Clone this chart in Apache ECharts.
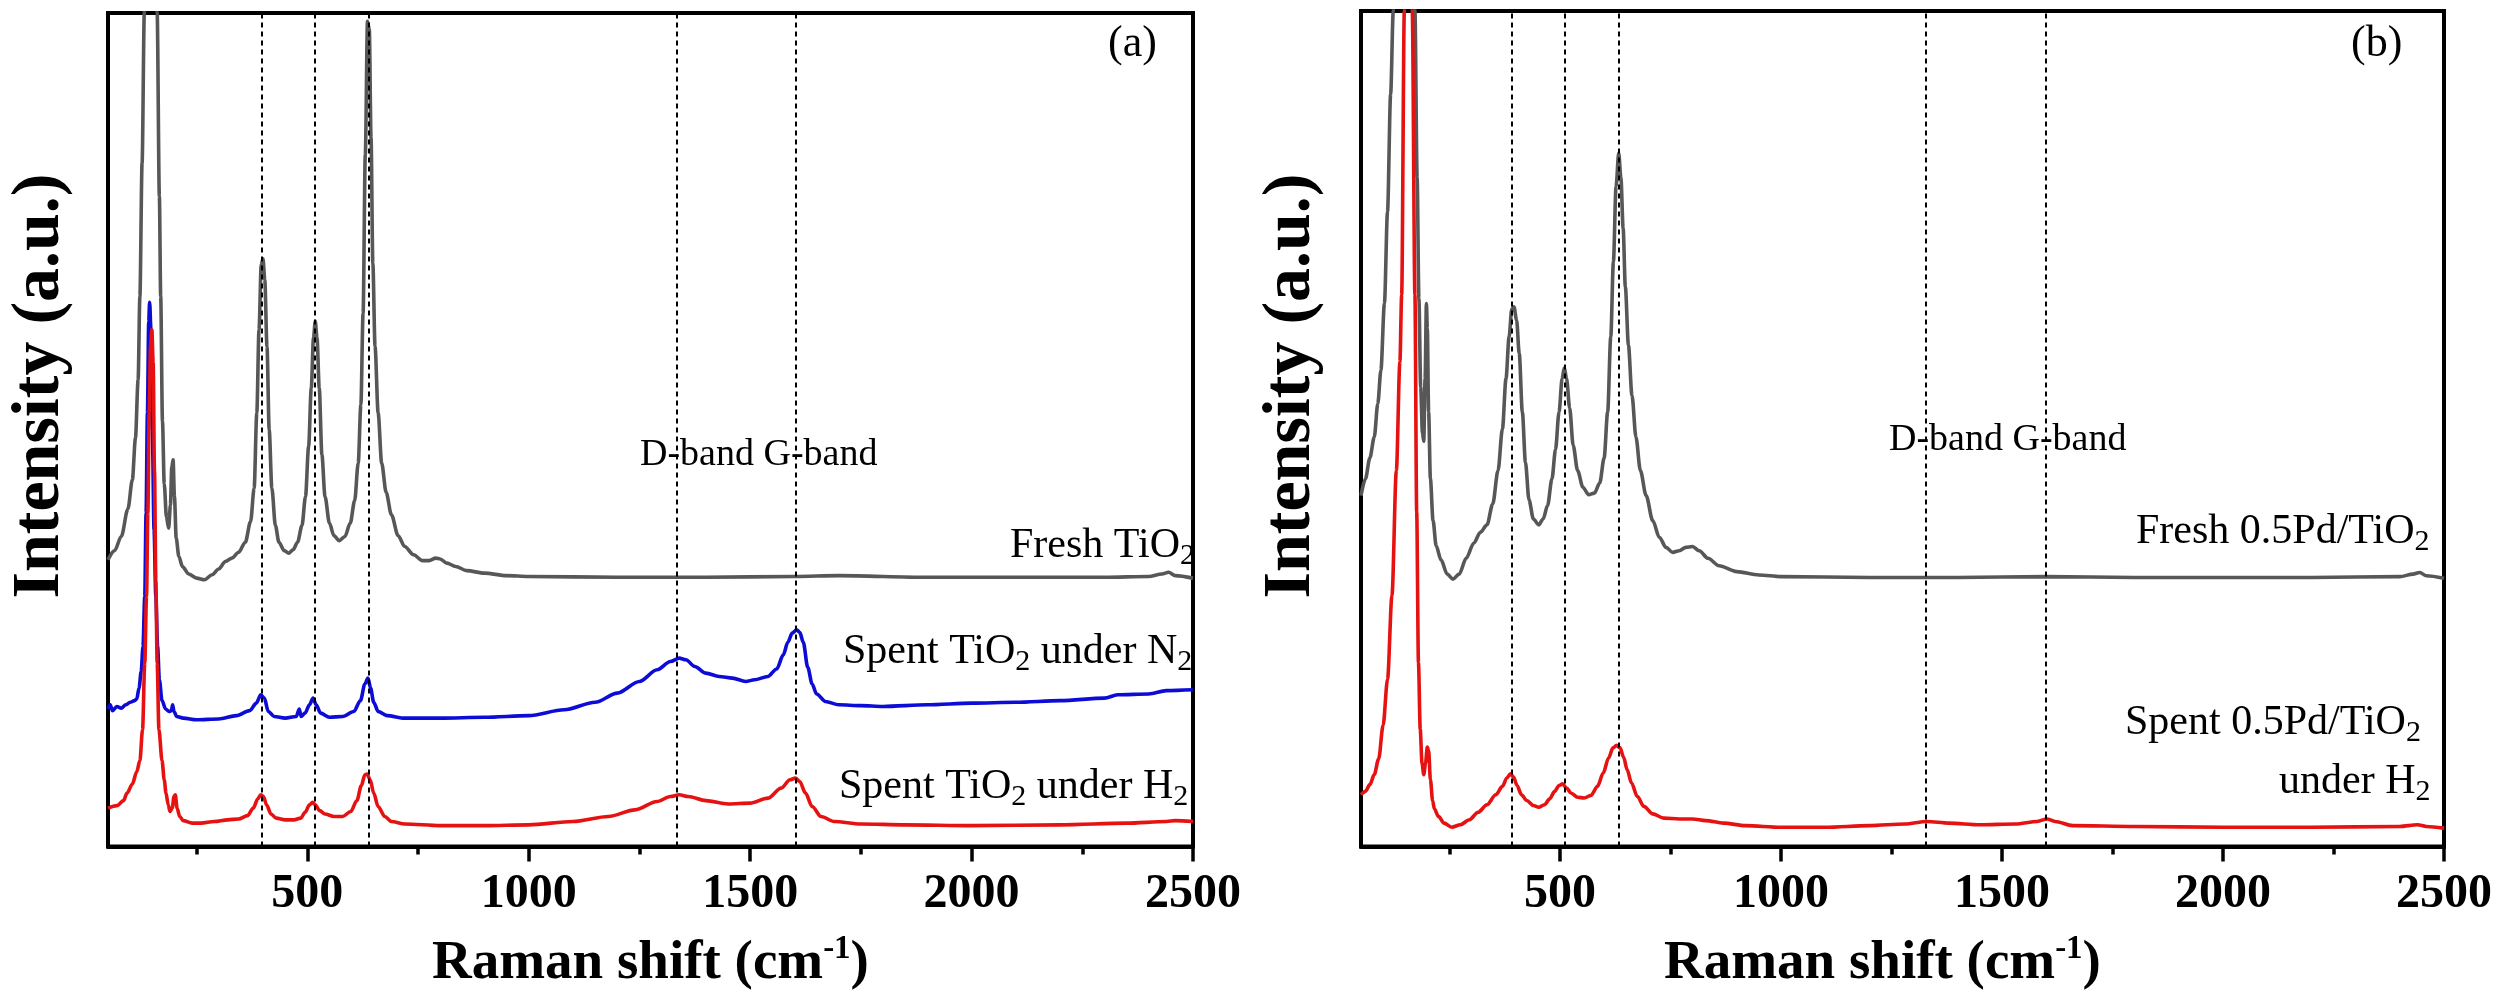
<!DOCTYPE html>
<html>
<head>
<meta charset="utf-8">
<script src="https://cdn.jsdelivr.net/npm/echarts@6/dist/echarts.min.js"></script>
<style>
html,body{margin:0;padding:0;background:#fff;}
#c{width:2501px;height:996px;}
</style>
</head>
<body>
<div id="c"></div>
<script>
// ---------- data (x: Raman shift cm-1, y: intensity a.u., arbitrary offset scale) ----------
const xTicks = [500, 1000, 1500, 2000, 2500];
const xMinorTicks = [250, 750, 1250, 1750, 2250];
const bandLinesA = [397, 516, 638, 1335, 1603];
const bandLinesB = [390, 510, 632, 1328, 1600];

const freshTiO2 = [[50,34.4],[65,35.5],[80,37.2],[95,40.5],[105,44],[112,49],[118,56],[122,66],[127,82],[132,100],[140,220],[150,220],[161,100],[166,78],[169,66],[173,51],[177,43.5],[182,39.5],[187,38.2],[191,41],[194,45.5],[197,46.4],[200,42],[204,37],[210,34.8],[218,33.6],[232,32.7],[250,32.2],[268,32.0],[285,32.6],[300,33.3],[315,34.2],[330,34.6],[345,35.3],[360,36.5],[372,39],[380,43],[386,52],[391,62],[396,69.8],[400,70.5],[404,68],[409,60],[414,50],[420,43],[428,38.5],[436,36.5],[448,35.5],[458,35.2],[468,35.6],[478,36.5],[488,38.5],[496,42],[503,48],[509,55],[514,61],[518,63],[522,61],[527,55],[533,47],[540,42],[550,38.8],[560,37.3],[572,36.7],[585,37.2],[597,38.8],[607,41.5],[615,46],[621,53],[626,64],[631,83],[636,99],[640,98],[644,85],[648,70],[653,60],[660,52],[668,46],[678,42.5],[690,39.8],[705,37.3],[720,36],[740,35],[760,34.3],[775,34.3],[790,34.6],[800,34.5],[815,34],[835,33.6],[860,33.1],[900,32.8],[950,32.5],[1000,32.4],[1200,32.3],[1400,32.3],[1600,32.4],[1700,32.5],[1900,32.3],[2100,32.3],[2300,32.3],[2400,32.4],[2430,32.7],[2445,32.9],[2460,32.5],[2500,32.2]];

const spentTiO2N2 = [[50,16.5],[55,17],[60,16.3],[70,16.8],[80,16.6],[90,17],[100,17.3],[110,17.5],[115,17.7],[120,19],[125,21],[129,24],[133,30],[136,40],[139,52],[142,63],[144,65.3],[147,62],[150,50],[154,38],[158,30],[162,24],[166,20],[172,17.5],[180,16.5],[188,16.2],[193,16.3],[196,17.0],[199,16.2],[205,15.6],[220,15.4],[250,15.2],[300,15.3],[340,15.7],[370,16.3],[385,17.2],[395,18.2],[403,17.8],[412,16.2],[425,15.6],[450,15.4],[475,15.6],[482,16.5],[486,15.6],[495,16],[505,17],[513,17.8],[520,17],[530,16],[550,15.5],[580,15.6],[605,16.2],[620,17.5],[630,19.5],[637,20.2],[643,19],[650,17.3],[660,16.2],[680,15.7],[720,15.4],[800,15.4],[900,15.5],[1000,15.7],[1080,16.4],[1150,17.3],[1200,18.4],[1250,19.8],[1290,21.2],[1320,22.2],[1340,22.6],[1355,22.4],[1375,21.6],[1400,20.8],[1430,20.4],[1460,20.2],[1490,19.8],[1510,20.0],[1540,20.4],[1560,21.3],[1575,23],[1585,24.5],[1595,25.6],[1605,26.0],[1612,25.7],[1620,24.5],[1630,21.5],[1640,19.5],[1650,18.3],[1670,17.4],[1700,17.0],[1750,16.9],[1800,16.8],[1900,17.0],[2000,17.2],[2100,17.3],[2200,17.5],[2300,17.8],[2330,18.2],[2400,18.3],[2440,18.7],[2500,18.8]];

const spentTiO2H2 = [[50,4.6],[70,4.9],[85,5.5],[93,6.4],[105,7.5],[115,9],[122,10.3],[128,14],[133,22],[137,30],[140,40],[143,52],[146,60],[149,62],[152,58],[155,45],[158,32],[161,22],[165,14],[172,10.3],[177,8],[181,6.4],[186,5],[190,4.2],[195,4.6],[199,6.0],[202,6.2],[206,4.6],[212,3.6],[220,3.1],[240,2.8],[260,2.8],[290,3.0],[320,3.2],[345,3.3],[365,3.7],[378,4.6],[388,5.7],[395,6.2],[401,6.0],[408,5.0],[418,3.9],[430,3.4],[450,3.2],[470,3.2],[485,3.4],[495,4.1],[505,5.0],[512,5.3],[518,5.0],[528,4.3],[540,3.9],[560,3.6],[580,3.6],[598,4.2],[612,5.5],[622,7.3],[630,8.6],[635,8.7],[642,8.0],[650,6.4],[660,4.8],[675,3.6],[690,3.0],[720,2.7],[800,2.5],[900,2.5],[1000,2.6],[1100,3.0],[1180,3.6],[1240,4.4],[1290,5.4],[1320,6.0],[1340,6.2],[1360,6.0],[1400,5.5],[1450,5.1],[1500,5.2],[1540,5.8],[1570,7.0],[1590,8.0],[1602,8.2],[1612,7.8],[1625,6.4],[1640,4.8],[1660,3.6],[1690,3.0],[1750,2.7],[1850,2.6],[2000,2.5],[2200,2.6],[2350,2.8],[2440,3.0],[2460,3.1],[2500,3.0]];

const freshPdTiO2 = [[50,42],[60,44],[70,46.5],[80,49],[88,53],[95,57],[103,65],[110,76],[117,90],[123,100],[135,220],[148,240],[160,200],[172,100],[177,80],[181,65.6],[185,55],[189,49.5],[192,48.5],[195,56],[198,65],[200,62],[203,52],[207,44],[213,39],[220,36],[231,34.3],[245,32.6],[258,32.0],[272,32.6],[288,34.5],[305,36.3],[320,37.6],[335,38.5],[348,41],[360,45],[370,50],[378,56],[385,61],[391,64.3],[396,64.6],[402,63],[408,59],[415,52],[422,46],[430,41.5],[440,39.2],[452,38.5],[462,39.2],[472,40.8],[482,44],[490,47.5],[498,52],[505,56],[510,57.3],[515,56],[522,52.5],[530,48],[540,45],[552,43],[565,42.1],[578,42.3],[590,43.5],[600,46.5],[608,52],[615,61],[621,70],[627,79],[633,83],[638,80],[643,74],[648,67],[655,60],[663,54],[672,49],[682,45],[695,42],[710,39],[725,37],[740,35.8],[755,35.2],[770,35.4],[785,35.8],[800,35.9],[815,35.4],[835,34.5],[860,33.6],[900,32.9],[950,32.5],[1000,32.3],[1200,32.2],[1400,32.2],[1600,32.3],[1800,32.2],[2000,32.2],[2200,32.2],[2400,32.3],[2430,32.6],[2445,32.8],[2460,32.4],[2500,32.1]];

const spentPdTiO2H2 = [[50,6.2],[60,6.6],[70,7.4],[80,8.6],[90,10.5],[100,14.5],[110,20],[120,30],[130,45],[138,58],[142,66],[148,100],[152,160],[157,250],[161,160],[166,100],[172,66],[176,40],[180,22],[184,14],[188,10],[192,8.6],[196,10],[200,11.9],[203,11.5],[207,8],[212,5.5],[216,4.5],[225,3.6],[238,2.8],[255,2.3],[275,2.6],[295,3.2],[315,4.1],[335,5],[355,6.2],[370,7.2],[380,8.2],[388,8.7],[395,8.3],[403,7.3],[413,6.2],[425,5.5],[440,4.9],[452,4.7],[465,5.0],[477,5.7],[488,6.6],[498,7.3],[506,7.5],[515,7.0],[525,6.4],[540,5.9],[555,5.8],[570,6.1],[585,7.2],[598,8.8],[610,10.6],[620,11.8],[628,12.1],[636,11.8],[644,10.7],[652,9.2],[662,7.6],[675,6.0],[690,4.8],[710,3.9],[735,3.4],[770,3.3],[800,3.3],[830,3.1],[870,2.8],[920,2.5],[1000,2.3],[1100,2.3],[1200,2.5],[1280,2.7],[1330,3.0],[1380,2.8],[1450,2.6],[1530,2.7],[1580,3.0],[1602,3.3],[1620,3.0],[1660,2.5],[1800,2.4],[2000,2.3],[2200,2.3],[2400,2.4],[2440,2.6],[2460,2.4],[2500,2.2]];

// ---------- styling ----------
const SERIF = 'Liberation Serif';
const GRAY = '#575757', BLUE = '#0c0cd6', RED = '#e61212';

function xAxes(gi, nameOffset) {
  return [
    {
      gridIndex: gi, type: 'value', min: 50, max: 2500, position: 'bottom',
      axisLine: {show: true, lineStyle: {color: '#000', width: 4}},
      axisTick: {show: true, customValues: xTicks, length: 15, inside: false, lineStyle: {color: '#000', width: 3.5}},
      axisLabel: {show: true, customValues: xTicks, formatter: v => String(v), fontFamily: SERIF, fontWeight: 'bold', fontSize: 48, color: '#000', margin: 24},
      splitLine: {show: false},
      name: '{b|Raman shift (cm}{sup|-1}{b|)}',
      nameLocation: 'middle', nameGap: 86,
      nameTextStyle: {
        padding: [0, 0, 0, nameOffset],
        rich: {
          b: {fontFamily: SERIF, fontWeight: 'bold', fontSize: 55, color: '#000', lineHeight: 62},
          sup: {fontFamily: SERIF, fontWeight: 'bold', fontSize: 33, color: '#000', lineHeight: 26, verticalAlign: 'top'}
        }
      }
    },
    {
      gridIndex: gi, type: 'value', min: 50, max: 2500, position: 'bottom',
      axisLine: {show: false},
      axisTick: {show: true, customValues: xMinorTicks, length: 8, inside: false, lineStyle: {color: '#000', width: 3.5}},
      axisLabel: {show: false},
      splitLine: {show: false}
    }
  ];
}
function yAxis(gi) {
  return {gridIndex: gi, type: 'value', min: 0, max: 100, axisLine: {show: false}, axisTick: {show: false}, axisLabel: {show: false}, splitLine: {show: false}};
}
function lineSeries(name, data, color, xi, yi, extra) {
  return Object.assign({
    name, type: 'line', data, xAxisIndex: xi, yAxisIndex: yi,
    showSymbol: false, symbol: 'none', smooth: 0.3, smoothMonotone: 'x', clip: true,
    lineStyle: {color, width: 3.6}, itemStyle: {color}, silent: true
  }, extra || {});
}
function bandMarks(values) {
  return {
    markLine: {
      silent: true, symbol: ['none', 'none'], label: {show: false},
      lineStyle: {type: [5, 4], color: '#000', width: 2},
      data: values.map(v => ({xAxis: v}))
    }
  };
}

const mainRich = {
  m: {fontFamily: SERIF, fontSize: 42, fill: '#000', color: '#000', lineHeight: 50},
  s: {fontFamily: SERIF, fontSize: 30, fill: '#000', color: '#000', lineHeight: 20, verticalAlign: 'bottom'}
};
function label(x, y, text, align) {
  return {type: 'text', x, y, z: 100, silent: true,
    style: {text, rich: mainRich, fontFamily: SERIF, fontSize: 42, fill: '#000', align: align || 'left', verticalAlign: 'middle'}};
}
function plain(x, y, text, size) {
  return {type: 'text', x, y, z: 100, silent: true,
    style: {text, fontFamily: SERIF, fontSize: size, fill: '#000', align: 'left', verticalAlign: 'middle'}};
}
function yTitle(x, y) {
  return {type: 'text', x, y, rotation: Math.PI / 2, z: 100, silent: true,
    style: {text: 'Intensity (a.u.)', fontFamily: SERIF, fontWeight: 'bold', fontSize: 68, fill: '#000', align: 'center', verticalAlign: 'middle'}};
}

const chart = echarts.init(document.getElementById('c'), null, {renderer: 'canvas'});
chart.setOption({
  backgroundColor: '#fff',
  animation: false,
  grid: [
    {left: 108, top: 13, width: 1085, height: 841, show: true, borderColor: '#000', borderWidth: 4, backgroundColor: 'transparent'},
    {left: 1361, top: 11, width: 1083, height: 840, show: true, borderColor: '#000', borderWidth: 4, backgroundColor: 'transparent'}
  ],
  xAxis: [...xAxes(0, 0), ...xAxes(1, -40)],
  yAxis: [yAxis(0), yAxis(1)],
  series: [
    lineSeries('Fresh TiO2', freshTiO2, GRAY, 0, 0),
    lineSeries('Spent TiO2 under N2', spentTiO2N2, BLUE, 0, 0),
    lineSeries('Spent TiO2 under H2', spentTiO2H2, RED, 0, 0, bandMarks(bandLinesA)),
    lineSeries('Fresh 0.5Pd/TiO2', freshPdTiO2, GRAY, 2, 1),
    lineSeries('Spent 0.5Pd/TiO2 under H2', spentPdTiO2H2, RED, 2, 1, bandMarks(bandLinesB))
  ],
  graphic: [
    yTitle(40, 386),
    yTitle(1291, 386),
    plain(1108, 44, '(a)', 44),
    plain(2351, 44, '(b)', 44),
    plain(640, 455, 'D-band G-band', 38),
    plain(1889, 440, 'D-band G-band', 38),
    label(1010, 546, '{m|Fresh TiO}{s|2}'),
    label(843, 652, '{m|Spent TiO}{s|2}{m| under N}{s|2}'),
    label(839, 787, '{m|Spent TiO}{s|2}{m| under H}{s|2}'),
    label(2136, 532, '{m|Fresh 0.5Pd/TiO}{s|2}'),
    label(2125, 723, '{m|Spent 0.5Pd/TiO}{s|2}'),
    label(2279, 782, '{m|under H}{s|2}')
  ]
});
</script>
</body>
</html>
